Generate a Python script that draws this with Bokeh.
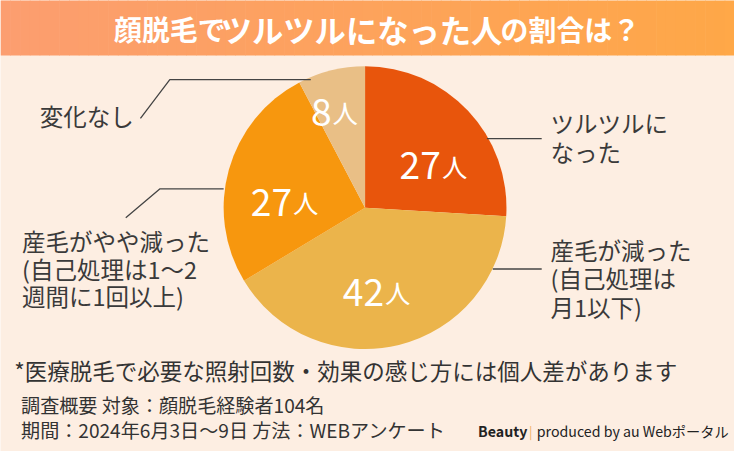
import numpy as np
from bokeh.plotting import figure
from bokeh.models import Range1d
from bokeh.core.properties import value
from bokeh.embed import file_html
from bokeh.resources import INLINE

# ---------------- data ----------------
title_parts = ["顔脱毛で", "ツルツルになった人", "の割合は？"]
categories = ["ツルツルになった", "産毛が減った(自己処理は月1以下)",
              "産毛がやや減った(自己処理は1～2週間に1回以上)", "変化なし"]
counts = [27, 42, 27, 8]
unit = "人"
label_lines = [["ツルツルに", "なった"],
               ["産毛が減った", "(自己処理は", "月1以下)"],
               ["産毛がやや減った", "(自己処理は1～2", "週間に1回以上)"],
               ["変化なし"]]
footnote = "*医療脱毛で必要な照射回数・効果の感じ方には個人差があります"
survey_lines = ["調査概要 対象：顔脱毛経験者104名",
                "期間：2024年6月3日～9日 方法：WEBアンケート"]
credit_brand = "Beauty"
credit_text = "produced by au Webポータル"

# ---------------- style ----------------
colors = ["#E8550C", "#EBB44B", "#F7970E", "#E9BF86"]
BG = "#FDEEE2"
TXT = "#3A3A3A"
FONT = "Noto Sans CJK JP"
W, H = 750, 467
PW, PH = 734, 451
S = PW / W

def fs(px):
    return "%.1fpx" % (px * S)

def Y(ry):
    return H - ry

p = figure(width=PW, height=PH, output_backend="svg", toolbar_location=None,
           x_range=Range1d(0, W), y_range=Range1d(0, H),
           min_border=0, background_fill_color=BG, border_fill_color=BG)
p.axis.visible = False
p.grid.visible = False
p.outline_line_color = None

# title bar gradient
c0 = np.array([252, 158, 112]); c1 = np.array([255, 168, 72])
n = 75
xs = np.linspace(0, W, n + 1)
cols = []
for i in range(n):
    t = i / (n - 1)
    c = (c0 * (1 - t) + c1 * t).astype(int)
    cols.append("#%02x%02x%02x" % tuple(c))
p.quad(left=xs[:-1], right=xs[1:] + 0.6, bottom=Y(57), top=Y(0) + 1,
       fill_color=cols, line_color=None)

# title
title_x = [116, 225, 511]
title_sizes = [28.5, 32, 28.5]
for t, x, s in zip(title_parts, title_x, title_sizes):
    p.text(x=[x], y=[Y(30)], text=[t], text_color="white", text_font=value(FONT),
           text_font_style="bold", text_font_size=fs(s), text_align="left",
           text_baseline="middle")

# pie
cx, cy, R = 372.5, 214.5, 144.5
total = sum(counts)
frac = np.array(counts) / total
cum = np.concatenate([[0], np.cumsum(frac)])
start = np.pi / 2 - 2 * np.pi * cum[:-1]
end = np.pi / 2 - 2 * np.pi * cum[1:]
p.wedge(x=[cx] * len(counts), y=[Y(cy)] * len(counts), radius=R,
        start_angle=start, end_angle=end, direction="clock",
        fill_color=colors, line_color=None)

# value labels inside slices
mid = (cum[:-1] + cum[1:]) / 2 * 360
shift = [6.7, -1.0, -1.0, -3.0]
rad = [96.5, 76, 77, 118]
for i, c in enumerate(counts):
    a = np.deg2rad(mid[i] + shift[i])
    lx = cx + rad[i] * np.sin(a)
    ly = cy - rad[i] * np.cos(a)
    base = Y(ly + 14)
    p.text(x=[lx], y=[base], text=[str(c)], text_color="white", text_font=value(FONT),
           text_font_size=fs(38), text_align="right", text_baseline="alphabetic")
    p.text(x=[lx + 1], y=[base], text=[unit], text_color="white", text_font=value(FONT),
           text_font_size=fs(26), text_align="left", text_baseline="alphabetic")

# leader lines (reference pixel coords)
leaders = [([497, 553], [143, 143]),
           ([503, 553], [278, 278]),
           ([128, 163, 228], [225, 195, 195]),
           ([143, 173, 317], [122, 82, 82])]
for lxs, lys in leaders:
    p.line(x=lxs, y=[Y(v) for v in lys], line_color="#444444", line_width=1.3)

# category labels
label_pos = [(562, [127, 157]), (562, [258, 287, 317]),
             (22, [249, 278, 306]), (40, [120])]
for lines, (x0, ys) in zip(label_lines, label_pos):
    for ln, yy in zip(lines, ys):
        p.text(x=[x0], y=[Y(yy)], text=[ln], text_color=TXT, text_font=value(FONT),
               text_font_size=fs(24), text_align="left", text_baseline="middle")

# footer
p.text(x=[14], y=[Y(383)], text=[footnote], text_color="#333333", text_font=value(FONT),
       text_font_size=fs(23), text_align="left", text_baseline="middle")
for ln, yy in zip(survey_lines, [419, 445]):
    p.text(x=[21], y=[Y(yy)], text=[ln], text_color="#333333", text_font=value(FONT),
           text_font_size=fs(19.5), text_align="left", text_baseline="middle")
p.text(x=[488], y=[Y(446)], text=[credit_brand], text_color="#222222", text_font=value(FONT),
       text_font_size=fs(14.5), text_font_style="bold", text_align="left", text_baseline="middle")
p.text(x=[540], y=[Y(446)], text=["|"], text_color="#F0B060", text_font=value(FONT),
       text_font_size=fs(13), text_align="left", text_baseline="middle")
p.text(x=[548], y=[Y(446)], text=[credit_text], text_color="#222222", text_font=value(FONT),
       text_font_size=fs(14.5), text_align="left", text_baseline="middle")

open("out.html", "w").write(file_html(p, INLINE))
